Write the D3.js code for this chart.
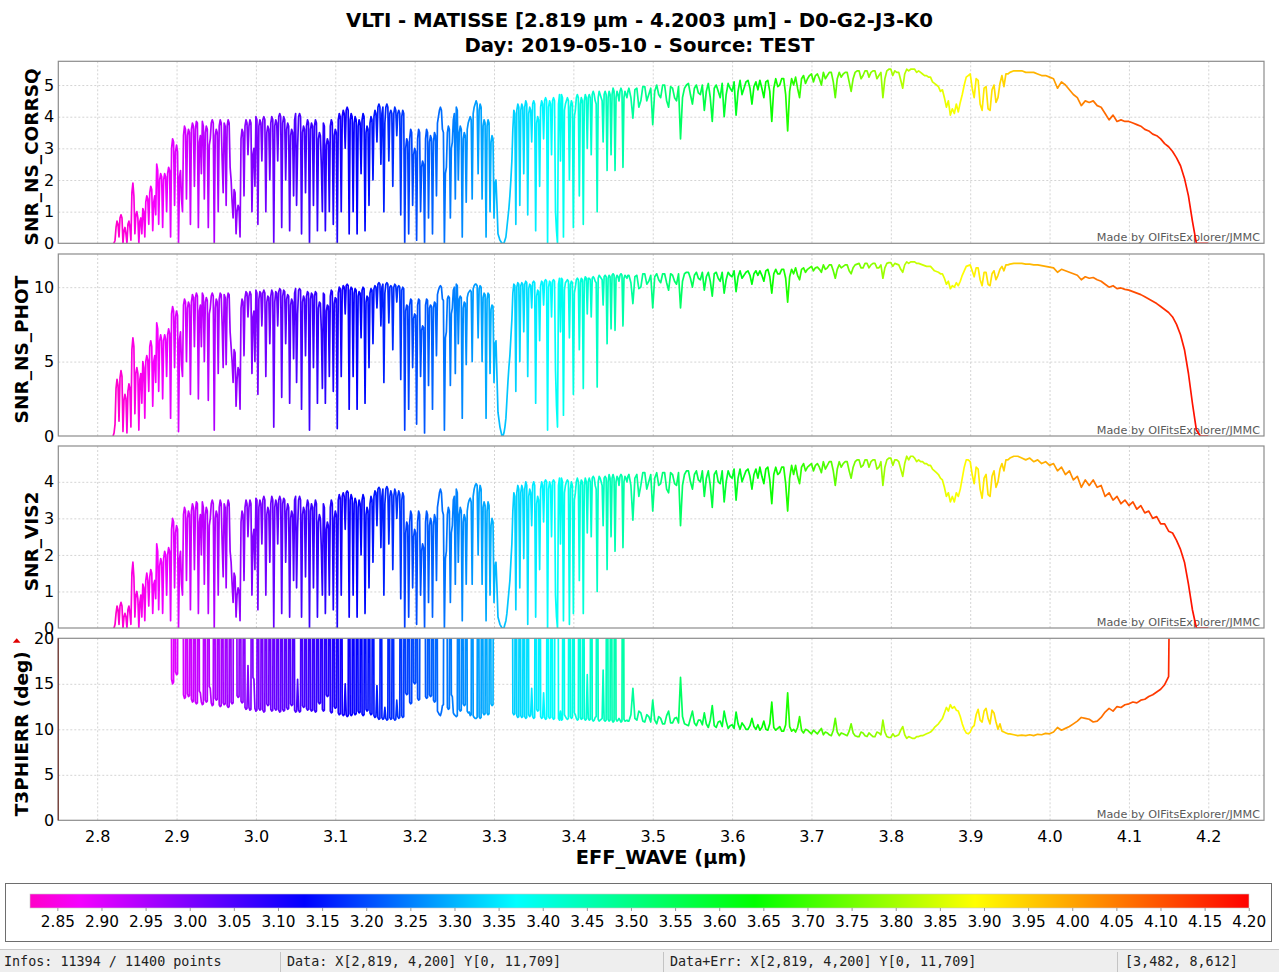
<!DOCTYPE html>
<html>
<head>
<meta charset="utf-8">
<script src="https://cdn.jsdelivr.net/npm/d3@7"></script>
<style>
  html, body { margin: 0; padding: 0; background: #ffffff; }
  svg { display: block; font-family: "DejaVu Sans", sans-serif; }
</style>
</head>
<body>
<svg id="chart" width="1279" height="972"></svg>
<script>
// ---------------------------------------------------------------------------
// Data
// ---------------------------------------------------------------------------
const titleLines = [
  "VLTI - MATISSE [2.819 µm - 4.2003 µm] - D0-G2-J3-K0",
  "Day: 2019-05-10 - Source: TEST"
];
const xLabel = "EFF_WAVE (µm)";
const waveRange = [2.819, 4.2003];           // EFF_WAVE min / max (µm)
const xTicks = [2.8, 2.9, 3.0, 3.1, 3.2, 3.3, 3.4, 3.5, 3.6, 3.7, 3.8, 3.9, 4.0, 4.1, 4.2];
const colorbarTicks = [2.85, 2.90, 2.95, 3.00, 3.05, 3.10, 3.15, 3.20, 3.25, 3.30, 3.35, 3.40,
  3.45, 3.50, 3.55, 3.60, 3.65, 3.70, 3.75, 3.80, 3.85, 3.90, 3.95, 4.00, 4.05, 4.10, 4.15, 4.20];
const statusTexts = [
  "Infos: 11394 / 11400 points",
  "Data: X[2,819, 4,200] Y[0, 11,709]",
  "Data+Err: X[2,819, 4,200] Y[0, 11,709]",
  "[3,482, 8,612]"
];

// EFF_WAVE sampling (µm):
//   forest 2.820 – 3.46875 in 1.25 nm steps (main samples + in-between samples),
//   band   3.470 – 3.9475  in 2.5 nm steps,
//   tail   3.950 – 4.200   in 5 nm steps
const waveForest = d3.range(520).map(k => +(2.820 + 0.00125 * k).toFixed(5));
const waveBand = d3.range(192).map(i => +(3.470 + 0.0025 * i).toFixed(4));
const waveTail = d3.range(51).map(j => +(3.950 + 0.005 * j).toFixed(4));

// ---- SNR_NS_CORRSQ --------------------------------------------------------
// forest main samples, 2.820 – 3.4675 µm (one row = 0.05 µm)
const corrsqForest = [
  0,0.1,0.7,0.2,0.9,0,0.5,0,0.7,0.1,1.9,0.3,1.0,0,0.8,1.1,0.2,1.5,0.6,1.8,
  0.4,1.5,2.5,0.6,2.2,0.5,2.2,1.0,2.4,0.2,3.3,1.2,3.1,0,2.3,1.0,3.7,1.4,3.6,0.6,
  3.8,1.8,3.85,0.5,3.4,3.85,1.4,3.7,0.5,3.3,3.9,0,3.6,1.0,3.9,2.6,3.8,1.2,3.9,2.4,
  1.3,1.7,0.3,1.2,0.2,3.6,1.5,3.9,2.8,3.9,1.0,3.0,4.0,0.6,3.9,2.6,4.0,1.0,3.7,2.0,
  4.0,0,3.9,2.6,4.1,0.5,4.0,2.0,3.8,0.4,3.6,1.5,4.1,3.0,4.1,0.3,3.7,1.6,3.9,0,
  3.8,1.2,3.9,0.4,3.5,2.4,3.8,0.4,3.3,1.0,3.9,0.6,3.6,0,4.1,1.0,4.2,3.0,4.3,0.3,
  4.1,1.0,4.0,0.3,3.9,2.2,4.1,0.4,3.7,1.2,4.0,2.0,4.2,3.2,4.4,2.5,4.3,3.8,4.4,2.6,
  4.2,1.8,4.3,3.4,4.2,0.9,4.2,0,3.3,0.3,3.6,1.2,3.0,0.1,3.6,1.0,2.6,0,3.6,0.8,
  3.4,0.3,3.5,1.5,4.0,4.3,3.6,0,2.4,3.7,0.8,3.2,4.1,4.3,2.0,3.7,0.2,3.5,1.3,3.8,
  4.0,1.4,4.3,4.5,2.2,4.4,1.4,3.9,0.2,3.9,1.0,3.4,0.8,2.0,0.3,0.1,0,0,0.2,0.8,
  1.5,2.6,4.2,0.6,4.4,1.2,4.4,2.2,4.5,0.9,4.3,3.2,4.5,0.4,4.0,1.8,4.5,3.3,4.6,0,
  4.5,2.8,4.6,1.0,0,4.7,4.7,0.2,4.4,4.6,2.0,4.5,0.5,4.2,4.7,1.5,4.6,0.6,4.7,3.0,
  4.7,2.8,4.8,4.5,1.0,4.8,4.6,3.2,4.8,2.3,4.8,2.8,4.9,2.3,4.8,4.5,4.9,2.4,4.8,4.6
];
// forest in-between samples, 2.82125 – 3.46875 µm
const corrsqForestMid = [
  0,0.5,0.6,0.8,0.8,0.4,0.3,0.6,0.5,1.6,1.5,0.9,0.8,0.7,0.3,1.0,1.3,1.4,1.6,1.7,
  1.3,0.9,2.3,2.0,2.1,2.0,2.1,2.2,2.3,3.0,3.2,2.9,2.9,2.1,1.4,3.4,3.6,3.4,3.5,3.6,
  3.7,3.6,3.8,3.2,2.2,3.7,3.5,3.6,3.1,3.8,3.8,3.4,3.5,3.7,3.8,1.6,3.7,3.7,3.8,2.0,
  0.8,1.6,1.0,1.1,3.3,3.5,3.7,3.8,3.7,3.8,2.8,1.8,3.9,3.7,3.8,3.9,3.9,3.5,3.6,3.8,
  3.9,3.7,3.8,4.0,4.0,3.8,3.9,3.6,3.7,3.4,3.5,3.9,1.2,4.0,4.0,3.5,3.6,3.7,3.8,3.6,
  3.7,3.7,3.8,3.3,3.4,1.0,3.7,3.1,3.2,3.7,3.8,3.4,3.5,3.9,4.0,4.0,4.1,4.2,4.2,3.9,
  4.0,3.8,3.9,3.7,3.8,3.9,4.0,3.5,3.6,3.8,3.9,4.0,4.1,4.3,4.3,4.1,1.0,4.3,4.3,4.1,
  4.1,4.1,4.2,4.1,4.1,4.0,4.1,3.0,3.2,3.3,3.5,2.8,2.9,3.3,3.5,2.4,2.5,3.3,3.5,3.2,
  3.3,3.2,3.4,3.8,4.2,4.2,3.5,2.2,3.5,3.6,3.0,3.9,1.4,4.2,3.5,3.6,3.3,3.4,3.6,3.9,
  3.9,4.1,4.4,4.4,4.2,4.3,3.7,3.8,3.7,3.8,3.2,3.3,1.9,1.2,0.2,0.05,0,0.1,0.5,1.1,
  2.0,3.6,4.1,4.2,4.3,4.2,4.3,4.3,4.4,4.1,4.2,4.4,4.4,3.8,3.9,4.3,4.4,4.5,4.5,4.3,
  4.4,4.5,4.5,0.4,4.4,2.6,4.6,4.2,4.5,4.5,4.3,4.4,4.0,4.6,4.6,4.4,4.5,4.5,4.6,4.6,
  4.6,4.7,4.7,4.4,4.6,4.7,4.5,4.7,4.7,4.6,4.7,4.7,4.8,4.6,4.7,4.8,4.8,4.6,4.7,4.8
];
// 3.470 – 3.9475 µm
const corrsqBand = [
  4.9,4.6,3.95,4.85,4.9,4.3,4.5,4.95,4.95,4.5,4.7,4.9,3.75,4.8,5.0,4.7,4.6,5.0,5.0,4.5,
  4.3,4.95,4.9,4.6,4.5,4.95,3.3,4.6,4.9,5.0,5.05,4.7,4.4,4.9,5.0,4.75,4.7,5.0,4.2,4.8,
  5.05,4.6,3.85,4.9,5.0,4.8,4.6,5.05,4.0,4.7,5.05,4.9,4.8,5.1,4.05,4.8,5.15,4.7,4.9,5.1,
  5.15,4.9,4.4,4.95,5.1,4.85,5.15,4.9,4.6,5.1,5.15,4.8,3.85,4.9,5.2,4.95,5.0,5.2,5.2,4.7,
  3.55,4.8,5.2,5.0,5.25,4.9,4.6,5.2,5.3,5.05,5.2,5.3,5.35,5.1,5.3,5.35,5.2,5.0,5.4,5.2,
  5.3,5.4,5.4,5.1,4.6,5.2,5.4,5.25,5.35,5.4,5.4,5.1,4.8,5.2,5.4,5.45,5.45,5.2,5.3,5.45,
  5.45,5.25,5.4,5.45,5.45,5.2,5.3,5.4,4.6,5.2,5.45,5.5,5.5,5.3,5.45,5.4,5.4,5.15,4.9,5.35,
  5.5,5.45,5.5,5.5,5.5,5.4,5.45,5.4,5.35,5.3,5.3,5.25,5.25,5.1,5.05,5.0,4.95,4.8,4.85,4.6,
  4.3,4.5,4.05,4.25,4.1,4.4,4.15,4.45,4.7,5.0,5.25,5.3,5.35,4.9,4.6,5.2,5.15,4.4,4.2,4.9,
  4.95,4.25,4.2,4.85,5.0,4.45,4.6,5.05,5.3,4.95,5.35,5.35
];
// 3.950 – 4.200 µm
const corrsqTail = [
  5.4,5.45,5.45,5.45,
  5.4,5.4,5.4,5.35,5.3,5.3,5.25,5.2,4.9,5.1,
  5.0,4.85,4.7,4.6,4.35,4.5,4.45,4.5,4.35,4.3,
  4.1,3.9,4.05,3.85,3.9,3.85,3.85,3.8,3.75,3.7,
  3.6,3.55,3.45,3.4,3.3,3.15,3.05,2.9,2.7,2.45,
  2.05,1.5,0.7,0,0,0,0
];

// ---- SNR_NS_PHOT ----------------------------------------------------------
const photForest = [
  0,0.8,3.8,1.0,4.4,0.3,2.8,0.2,3.5,0.6,6.6,1.5,4.6,0.4,4.2,5.0,1.2,5.4,3.0,6.4,
  2.0,5.4,7.6,3.0,6.8,2.5,6.8,4.0,7.2,1.2,8.7,4.6,8.4,0.3,7.0,4.0,9.2,5.0,9.0,2.8,
  9.5,6.0,9.6,2.5,8.8,9.6,5.0,9.3,2.4,8.6,9.6,0.4,9.2,4.2,9.6,7.4,9.5,4.8,9.6,7.0,
  5.0,5.8,2.0,4.6,1.8,9.2,5.4,9.7,8.0,9.7,4.2,8.4,9.8,2.8,9.7,7.4,9.8,4.0,9.4,6.2,
  9.8,0.6,9.7,7.4,9.9,2.6,9.8,6.2,9.5,2.2,9.2,5.2,9.9,8.2,9.9,1.8,9.4,5.4,9.7,0.4,
  9.6,4.6,9.7,2.2,9.0,7.0,9.6,2.2,8.8,4.0,9.8,3.0,9.3,0.5,10.0,4.0,10.1,8.2,10.2,1.8,
  10.0,4.0,9.9,1.8,9.7,6.6,10.0,2.2,9.4,4.6,9.9,6.2,10.1,8.6,10.3,7.4,10.2,9.6,10.3,7.6,
  10.1,5.8,10.2,9.0,10.1,3.8,10.0,0.4,8.8,1.8,9.2,4.6,8.2,0.8,9.2,4.0,7.4,0.2,9.2,3.4,
  8.8,1.8,9.0,5.4,9.8,10.1,9.2,0.4,7.0,9.4,3.4,8.6,10.0,10.2,6.2,9.4,1.2,9.0,4.8,9.6,
  9.8,5.0,10.1,10.2,6.6,10.1,5.0,9.6,1.2,9.6,4.2,8.8,3.6,6.4,1.6,0.6,0,0.2,1.2,3.6,
  5.4,7.8,10.2,3.0,10.3,5.0,10.3,7.0,10.4,4.0,10.2,8.6,10.4,2.2,9.8,6.4,10.4,8.8,10.5,0.4,
  10.4,8.0,10.5,4.4,0.6,10.6,10.6,1.4,10.3,10.5,6.6,10.4,2.8,10.0,10.6,5.8,10.6,3.2,10.7,8.2,
  10.6,8.0,10.7,10.4,3.3,10.8,10.6,8.8,10.8,6.2,10.8,7.2,10.9,7.1,10.8,10.4,10.9,7.4,10.8,10.6
];
const photForestMid = [
  0.2,3.2,3.4,3.9,4.0,2.4,2.5,3.0,3.2,5.8,6.0,4.2,4.2,3.8,2.2,4.6,5.0,5.1,6.0,6.0,
  5.0,3.6,7.2,6.4,6.4,6.4,6.5,6.8,6.9,8.2,8.4,8.0,8.1,6.5,4.8,8.8,9.0,8.6,8.8,9.0,
  9.3,9.3,9.4,8.4,6.0,9.4,9.0,9.1,8.2,9.4,9.4,8.6,9.0,9.2,9.5,4.6,9.3,9.2,9.5,6.0,
  3.6,5.6,3.8,4.4,8.6,9.0,9.3,9.6,9.4,9.5,8.0,5.0,9.6,9.2,9.6,9.6,9.6,9.0,9.3,9.4,
  9.6,9.0,9.6,9.7,9.8,9.4,9.7,9.2,9.4,8.8,9.0,9.6,3.6,9.8,9.8,9.0,9.2,9.4,9.6,9.2,
  9.5,9.4,9.6,8.6,8.9,3.2,9.5,8.4,8.7,9.4,9.7,8.9,9.2,9.6,9.9,9.8,10.0,10.1,10.1,9.8,
  9.9,9.6,9.8,9.4,9.6,9.8,9.9,9.0,9.3,9.6,9.8,9.9,10.0,10.2,10.2,10.0,3.6,10.2,10.2,10.0,
  10.0,10.0,10.1,10.0,10.0,9.8,9.9,8.4,8.7,8.8,9.1,7.9,8.1,8.8,9.1,7.1,7.3,8.8,9.1,8.6,
  8.7,8.6,8.9,9.5,10.0,10.0,9.1,6.6,9.2,9.3,8.2,9.8,4.2,10.1,9.2,9.3,8.6,8.9,9.3,9.7,
  9.7,9.9,10.2,10.1,9.9,10.0,9.3,9.5,9.2,9.5,8.5,8.7,6.2,4.0,1.1,0.3,0,0.6,2.4,4.6,
  6.6,9.6,10.1,10.0,10.2,10.1,10.2,10.2,10.3,9.9,10.1,10.3,10.3,9.4,9.7,10.1,10.3,10.4,10.4,10.0,
  10.3,10.4,10.4,2.0,10.2,7.0,10.5,9.8,10.4,10.4,10.2,10.3,9.6,10.5,10.5,10.3,10.5,10.4,10.6,10.6,
  10.5,10.6,10.6,10.3,10.6,10.7,10.5,10.7,10.7,10.6,10.7,10.8,10.8,10.6,10.7,10.8,10.8,10.6,10.7,10.8
];
const photBand = [
  10.8,10.3,8.9,10.7,10.8,9.9,10.0,10.9,10.9,10.2,10.4,10.8,8.6,10.7,10.9,10.5,10.3,10.9,10.9,10.3,
  9.8,10.9,10.8,10.4,10.2,10.9,8.6,10.4,10.9,11.0,11.0,10.6,10.0,10.8,11.0,10.6,10.5,11.0,9.8,10.7,
  11.0,10.4,9.4,10.9,11.0,10.6,10.4,11.0,9.6,10.5,11.0,10.8,10.7,11.1,9.7,10.7,11.1,10.6,10.8,11.0,
  11.1,10.8,10.2,10.9,11.1,10.8,11.1,10.8,10.4,11.1,11.2,10.7,9.6,10.9,11.2,10.9,10.9,11.2,11.2,10.6,
  9.0,10.7,11.2,10.9,11.3,10.8,10.5,11.2,11.3,11.0,11.2,11.3,11.4,11.1,11.3,11.35,11.2,11.0,11.5,11.2,
  11.3,11.5,11.5,11.1,10.6,11.2,11.5,11.3,11.4,11.5,11.5,11.1,10.9,11.3,11.5,11.55,11.6,11.3,11.3,11.6,
  11.6,11.3,11.5,11.6,11.6,11.3,11.3,11.5,10.6,11.3,11.6,11.65,11.65,11.4,11.6,11.55,11.5,11.2,11.0,11.5,
  11.7,11.6,11.7,11.7,11.7,11.6,11.6,11.55,11.5,11.45,11.4,11.4,11.4,11.25,11.1,11.05,11.0,10.9,10.9,10.6,
  10.2,10.4,9.9,10.1,10.0,10.3,10.1,10.4,10.8,11.1,11.4,11.45,11.5,11.1,10.7,11.3,11.3,10.5,10.1,11.0,
  11.0,10.2,10.1,10.9,11.1,10.5,10.8,11.2,11.4,11.1,11.5,11.5
];
const photTail = [
  11.55,11.6,11.6,11.6,
  11.55,11.55,11.5,11.5,11.45,11.4,11.35,11.3,11.0,11.2,
  11.1,11.0,10.9,10.8,10.5,10.7,10.6,10.65,10.5,10.4,
  10.2,10.0,10.1,9.9,9.95,9.85,9.8,9.7,9.6,9.5,
  9.35,9.2,9.05,8.9,8.7,8.5,8.3,8.0,7.5,6.8,
  5.8,4.2,2.2,0.4,0,0,0
];

// ---- SNR_VIS2 -------------------------------------------------------------
const vis2Forest = [
  0,0.1,0.6,0.1,0.7,0,0.4,0,0.6,0.1,1.8,0.3,1.0,0,0.9,1.2,0.2,1.5,0.6,1.6,
  0.4,1.3,2.3,0.5,1.9,0.4,2.1,0.9,2.2,0.2,3.0,1.1,2.8,0,2.1,0.9,3.3,1.3,3.2,0.5,
  3.4,1.6,3.45,0.4,3.1,3.45,1.2,3.3,0.4,3.0,3.5,0,3.2,0.9,3.5,2.3,3.4,1.1,3.5,2.1,
  1.2,1.5,0.3,1.1,0.2,3.2,1.3,3.5,2.5,3.5,0.9,2.7,3.55,0.5,3.5,2.3,3.6,0.9,3.3,1.8,
  3.6,0,3.5,2.3,3.6,0.4,3.55,1.8,3.4,0.3,3.2,1.3,3.6,2.7,3.6,0.3,3.3,1.4,3.5,0,
  3.4,1.1,3.5,0.3,3.1,2.1,3.4,0.4,2.9,0.9,3.5,0.5,3.2,0,3.65,0.9,3.7,2.7,3.75,0.3,
  3.65,0.9,3.55,0.3,3.5,2.0,3.65,0.4,3.3,1.1,3.6,1.8,3.75,2.8,3.85,2.2,3.8,3.4,3.87,2.3,
  3.75,1.6,3.8,3.0,3.75,0.8,3.7,0,2.9,0.3,3.2,1.1,2.7,0.1,3.2,0.9,2.3,0,3.2,0.7,
  3.0,0.3,3.1,1.3,3.5,3.8,3.2,0,2.1,3.3,0.7,2.8,3.6,3.8,1.8,3.3,0.2,3.1,1.2,3.4,
  3.55,1.2,3.8,3.95,2.0,3.9,1.2,3.45,0.2,3.45,0.9,3.0,0.7,1.8,0.3,0.1,0,0,0.2,0.7,
  1.3,2.3,3.7,0.5,3.9,1.1,3.9,1.9,4.0,0.1,3.8,2.8,4.0,0.3,3.6,1.6,4.0,2.9,4.05,0,
  4.0,2.5,4.05,0.9,0,4.1,4.1,0.2,3.9,4.05,0.1,4.0,0.4,3.7,4.1,1.3,4.05,0.4,4.1,2.6,
  4.1,2.5,4.15,3.9,1.0,4.15,4.0,2.8,4.15,1.6,4.2,2.5,4.2,2.1,4.15,3.9,4.2,2.2,4.15,4.0
];
const vis2ForestMid = [
  0,0.4,0.5,0.6,0.6,0.3,0.3,0.5,0.4,1.5,1.4,0.9,0.8,0.7,0.3,1.1,1.3,1.3,1.4,1.5,
  1.2,0.8,2.1,1.7,1.8,1.9,2.0,2.0,2.1,2.7,2.9,2.6,2.7,1.9,1.2,3.1,3.2,3.0,3.1,3.2,
  3.3,3.2,3.4,2.9,2.0,3.3,3.1,3.2,2.8,3.4,3.4,3.0,3.1,3.3,3.4,1.4,3.3,3.3,3.4,1.8,
  0.7,1.4,0.9,1.0,2.9,3.1,3.3,3.4,3.3,3.4,2.5,1.6,3.5,3.3,3.4,3.5,3.5,3.1,3.2,3.4,
  3.5,3.3,3.4,3.5,3.5,3.4,3.5,3.2,3.3,3.0,3.1,3.5,1.1,3.5,3.5,3.1,3.2,3.3,3.4,3.2,
  3.3,3.3,3.4,2.9,3.0,0.9,3.3,2.7,2.8,3.3,3.4,3.0,3.1,3.5,3.55,3.6,3.6,3.7,3.7,3.5,
  3.55,3.4,3.45,3.3,3.4,3.5,3.55,3.1,3.2,3.4,3.5,3.6,3.7,3.8,3.8,3.6,0.9,3.8,3.8,3.6,
  3.65,3.6,3.7,3.6,3.65,3.5,3.6,2.6,2.8,2.9,3.1,2.5,2.6,2.9,3.1,2.1,2.2,2.9,3.1,2.8,
  2.9,2.8,3.0,3.3,3.7,3.7,3.1,1.9,3.1,3.2,2.6,3.5,1.2,3.7,3.1,3.2,2.9,3.0,3.2,3.5,
  3.45,3.6,3.9,3.9,3.7,3.8,3.3,3.35,3.2,3.35,2.8,2.9,1.7,1.1,0.2,0.05,0,0.1,0.4,1.0,
  1.8,3.2,3.6,3.7,3.8,3.7,3.8,3.8,3.9,3.6,3.7,3.9,3.9,3.4,3.5,3.8,3.9,4.0,4.0,3.8,
  3.9,4.0,4.0,0.3,3.9,2.3,4.0,3.7,4.0,4.0,3.8,3.9,3.5,4.0,4.0,3.9,4.0,3.9,4.0,4.0,
  4.0,4.1,4.1,3.8,4.0,4.1,3.9,4.1,4.1,4.0,4.1,4.1,4.1,4.0,4.1,4.15,4.15,4.0,4.1,4.15
];
const vis2Band = [
  4.2,3.9,2.95,4.1,4.2,3.6,3.9,4.25,4.25,3.8,4.0,4.2,3.2,4.1,4.25,3.9,3.95,4.25,4.25,3.8,
  3.7,4.25,4.2,3.95,3.9,4.25,2.8,3.9,4.2,4.3,4.3,4.0,3.8,4.2,4.3,4.05,4.0,4.3,3.6,4.1,
  4.3,3.9,3.3,4.2,4.3,4.0,3.95,4.3,3.45,4.0,4.3,4.15,4.1,4.35,3.5,4.1,4.35,4.0,4.15,4.3,
  4.35,4.15,3.8,4.2,4.35,4.1,4.4,4.15,3.95,4.35,4.4,4.05,3.4,4.2,4.4,4.2,4.25,4.4,4.4,3.95,
  3.2,4.1,4.45,4.2,4.45,4.15,3.95,4.4,4.5,4.3,4.4,4.45,4.5,4.3,4.45,4.5,4.4,4.25,4.55,4.35,
  4.45,4.55,4.55,4.3,3.9,4.35,4.55,4.4,4.5,4.55,4.55,4.3,4.1,4.4,4.55,4.6,4.6,4.4,4.45,4.6,
  4.6,4.4,4.55,4.6,4.6,4.35,4.4,4.55,3.9,4.4,4.6,4.65,4.65,4.45,4.6,4.6,4.55,4.35,4.15,4.5,
  4.7,4.6,4.7,4.7,4.65,4.55,4.6,4.55,4.55,4.5,4.5,4.45,4.45,4.35,4.3,4.25,4.2,4.1,4.05,3.85,
  3.6,3.7,3.45,3.6,3.45,3.7,3.6,3.8,4.1,4.4,4.6,4.6,4.55,4.2,3.95,4.4,4.35,3.8,3.55,4.1,
  4.2,3.65,3.6,4.15,4.3,3.85,4.0,4.35,4.5,4.3,4.6,4.6
];
const vis2Tail = [
  4.65,4.7,4.7,4.65,
  4.6,4.65,4.55,4.6,4.5,4.55,4.45,4.5,4.3,4.4,
  4.2,4.3,4.05,4.15,3.85,4.05,3.9,4.05,3.85,3.9,
  3.6,3.7,3.5,3.6,3.4,3.5,3.35,3.45,3.25,3.35,
  3.15,3.2,3.0,3.05,2.85,2.85,2.65,2.6,2.4,2.15,
  1.8,1.2,0.5,0,0,0,0
];

// ---- T3PHIERR (deg); 60 marks samples far above the 20° display range ------
const t3Forest = [
  60,60,60,60,60,60,60,60,60,60,60,60,60,60,60,60,60,60,60,60,
  60,60,60,60,60,60,60,60,60,60,15.0,60,16.0,60,60,60,13.4,60,13.6,60,
  13.0,60,12.8,60,14.0,12.7,60,13.0,60,14.5,12.6,60,13.2,60,12.5,60,12.7,60,12.4,60,
  12.8,60,60,13.5,60,12.9,60,12.2,17.0,12.1,60,15.5,12.0,60,12.1,60,11.9,60,12.6,60,
  12.0,60,12.1,60,11.9,60,12.0,60,12.2,60,12.6,60,11.9,15.5,11.9,60,12.4,60,12.1,60,
  12.0,60,11.9,60,12.8,60,12.0,60,13.6,60,11.8,60,12.3,60,11.6,60,11.5,15.0,11.4,60,
  11.5,60,11.6,60,11.8,60,11.5,60,12.0,60,11.6,60,11.3,14.8,11.1,60,11.1,12.4,11.0,60,
  11.1,60,11.0,13.2,11.2,60,11.3,60,13.8,60,12.8,60,15.0,60,13.2,60,60,60,13.4,60,
  13.6,60,13.0,60,11.8,11.5,12.6,60,60,12.2,60,13.6,11.6,11.4,60,12.0,60,12.6,60,11.8,
  11.5,60,11.3,11.2,60,11.2,60,11.6,60,11.6,60,12.6,60,60,60,60,60,60,60,60,
  60,60,11.6,60,11.3,60,11.3,60,11.2,60,11.4,14.5,11.2,60,12.0,60,11.2,14.0,11.1,60,
  11.2,60,11.1,60,60,11.0,11.0,60,11.4,11.1,60,11.2,60,11.6,11.0,60,11.1,60,11.0,16.0,
  11.0,60,10.9,11.3,60,10.9,11.1,16.5,10.9,60,10.9,60,10.8,60,10.9,11.2,10.8,60,10.9,11.0
];
const t3ForestMid = [
  60,60,60,60,60,60,60,60,60,60,60,60,60,60,60,60,60,60,60,60,
  60,60,60,60,60,60,60,60,60,15.5,15.2,16.3,16.1,60,60,13.8,13.5,13.9,13.7,13.3,
  13.1,13.0,12.9,14.2,13.0,12.8,13.2,13.1,14.7,12.9,12.7,13.4,13.3,12.7,12.6,12.9,12.8,12.6,12.5,13.0,
  12.9,60,13.7,13.6,13.1,13.0,12.4,12.3,12.4,12.2,15.7,12.3,12.1,12.3,12.2,12.1,12.0,12.8,12.7,12.2,
  12.1,12.3,12.2,12.1,12.0,12.2,12.1,12.4,12.3,12.8,12.7,12.1,12.0,12.1,12.0,12.6,12.5,12.3,12.2,12.2,
  12.1,12.1,12.0,13.0,12.9,12.2,12.1,13.8,13.7,12.0,11.9,12.5,12.4,11.8,11.7,11.7,11.6,11.6,11.5,11.7,
  11.6,11.8,11.7,12.0,11.9,11.7,11.6,12.2,12.1,11.8,11.7,11.5,11.4,11.3,11.2,11.3,11.2,11.2,11.1,11.3,
  11.2,11.2,11.1,11.4,11.3,11.5,11.4,14.0,13.9,13.0,12.9,15.2,15.1,13.4,13.3,60,60,13.6,13.5,13.8,
  13.7,13.2,13.1,12.0,11.6,11.9,12.7,60,12.4,12.3,13.8,11.8,11.5,11.5,12.2,12.1,12.8,12.7,12.0,11.9,
  11.6,11.5,11.2,11.3,11.4,11.3,11.8,11.7,11.8,11.7,12.8,12.7,60,60,60,60,60,60,60,60,
  60,11.8,11.7,11.5,11.4,11.5,11.4,11.4,11.3,11.6,11.6,11.4,11.3,12.2,12.1,11.4,11.3,11.3,11.2,11.4,
  11.3,11.3,11.2,60,11.2,12.0,11.1,11.6,11.2,11.2,11.4,11.3,11.8,11.2,11.1,11.3,11.2,11.2,11.1,11.2,
  11.1,11.1,11.0,11.4,11.1,11.0,11.2,11.0,11.0,11.1,11.0,11.0,10.9,11.1,11.0,11.0,10.9,11.1,10.95,10.9
];
const t3Band = [
  10.9,11.6,14.5,11.2,11.0,12.0,11.8,10.9,10.8,11.6,11.4,10.8,13.2,11.0,10.6,11.4,11.2,10.6,10.6,11.5,
  12.0,10.7,10.7,11.2,11.3,10.7,15.7,11.4,10.6,10.5,10.4,11.2,12.0,10.7,10.4,11.0,11.0,10.5,11.8,10.6,
  10.2,11.0,12.6,10.4,10.2,10.8,10.9,10.3,12.0,10.9,10.1,10.4,10.5,10.1,11.9,10.6,10.0,10.7,10.4,10.0,
  10.0,10.4,11.2,10.3,10.0,10.5,9.9,10.2,10.9,10.0,9.9,10.6,13.0,10.2,9.9,10.1,10.3,9.8,9.8,10.5,
  14.0,10.3,9.8,10.0,9.7,10.2,11.4,9.9,9.6,10.0,9.9,9.7,9.5,9.9,9.7,9.5,9.8,10.1,9.4,9.7,
  9.6,9.4,9.3,9.9,11.2,9.7,9.3,9.6,9.5,9.4,9.3,9.8,10.6,9.6,9.3,9.2,9.2,9.7,9.6,9.3,
  9.2,9.6,9.4,9.2,9.2,9.7,9.6,9.4,11.0,9.7,9.2,9.1,9.1,9.5,9.2,9.3,9.4,9.9,10.3,9.4,
  9.0,9.2,9.1,9.0,9.0,9.2,9.2,9.3,9.3,9.4,9.5,9.6,9.7,9.9,10.2,10.4,10.6,10.9,11.2,11.8,
  12.4,12.0,12.7,12.3,12.5,12.1,12.0,11.4,10.6,10.0,9.6,9.5,9.7,10.2,10.4,11.6,12.2,11.0,10.8,12.0,
  12.3,11.2,10.6,12.1,11.8,10.8,10.0,10.6,9.8,9.7,9.6,9.5
];
const t3Tail = [
  9.5,9.4,9.3,9.35,
  9.3,9.4,9.3,9.45,9.4,9.55,9.5,9.7,10.2,9.9,
  10.1,10.3,10.6,10.9,11.3,11.2,11.1,10.8,10.9,11.3,
  11.9,12.3,12.0,12.5,12.4,12.7,12.8,13.0,12.9,13.2,
  13.3,13.6,13.8,14.1,14.4,14.9,15.8,60,60,60,
  60,60,60,60,60,60,60
];

// ---------------------------------------------------------------------------
// Assemble series
// ---------------------------------------------------------------------------
function interleave(main, mid) {
  if (main.length !== mid.length) throw new Error("forest arrays differ: " + main.length + " / " + mid.length);
  return main.flatMap((v, i) => [v, mid[i]]);
}
const effWave = waveForest.concat(waveBand, waveTail);
const panels = [
  { name: "SNR_NS_CORRSQ",  values: interleave(corrsqForest, corrsqForestMid).concat(corrsqBand, corrsqTail), domain: [0, 5.75],  ticks: [0, 1, 2, 3, 4, 5] },
  { name: "SNR_NS_PHOT",    values: interleave(photForest, photForestMid).concat(photBand, photTail),         domain: [0, 12.23], ticks: [0, 5, 10] },
  { name: "SNR_VIS2",       values: interleave(vis2Forest, vis2ForestMid).concat(vis2Band, vis2Tail),         domain: [0, 4.98],  ticks: [0, 1, 2, 3, 4] },
  { name: "T3PHIERR (deg)", values: interleave(t3Forest, t3ForestMid).concat(t3Band, t3Tail),                 domain: [0, 20],    ticks: [0, 5, 10, 15, 20] }
];
panels.forEach(p => {
  if (p.values.length !== effWave.length) throw new Error(p.name + " has " + p.values.length + " values, expected " + effWave.length);
});

// ---------------------------------------------------------------------------
// Layout & scales
// ---------------------------------------------------------------------------
const W = 1279;
const plotL = 58.3, plotR = 1264;
const panelTops = [61.3, 254, 446, 638.3];
const panelH = 182;
const font = "'DejaVu Sans', sans-serif";

const x = d3.scaleLinear().domain([2.751, 4.2702]).range([plotL, plotR]);

// wavelength colour map (magenta → blue → cyan → green → yellow → red)
const colorStops = [
  [2.819, "#ff00c8"], [2.875, "#f500ff"], [3.13, "#0000ff"], [3.37, "#00ffff"],
  [3.64, "#00ff00"], [3.89, "#ffff00"], [4.2003, "#ff0000"]
];

const svg = d3.select("#chart");
const defs = svg.append("defs");

function addGradient(id, x1, x2) {
  const g = defs.append("linearGradient").attr("id", id)
    .attr("gradientUnits", "userSpaceOnUse")
    .attr("x1", x1).attr("x2", x2).attr("y1", 0).attr("y2", 0);
  colorStops.forEach(([w, c]) => {
    g.append("stop")
      .attr("offset", (w - waveRange[0]) / (waveRange[1] - waveRange[0]))
      .attr("stop-color", c);
  });
}
addGradient("waveGrad", x(waveRange[0]), x(waveRange[1]));

// ---------------------------------------------------------------------------
// Title
// ---------------------------------------------------------------------------
svg.append("text").attr("x", W / 2).attr("y", 27)
  .attr("text-anchor", "middle").attr("font-family", font)
  .attr("font-weight", "bold").attr("font-size", 19.7).text(titleLines[0]);
svg.append("text").attr("x", W / 2).attr("y", 52)
  .attr("text-anchor", "middle").attr("font-family", font)
  .attr("font-weight", "bold").attr("font-size", 19.7).text(titleLines[1]);

// ---------------------------------------------------------------------------
// Panels
// ---------------------------------------------------------------------------
panels.forEach((p, k) => {
  const top = panelTops[k];
  const bottom = top + panelH;
  const y = d3.scaleLinear().domain(p.domain).range([bottom, top]);
  const g = svg.append("g");

  g.append("rect").attr("x", plotL).attr("y", top)
    .attr("width", plotR - plotL).attr("height", panelH).attr("fill", "#ffffff");

  // grid
  g.append("g").attr("transform", `translate(0,${bottom})`)
    .call(d3.axisBottom(x).tickValues(xTicks).tickSize(-panelH).tickFormat(""))
    .call(a => {
      a.select(".domain").remove();
      a.selectAll("line").attr("stroke", "#d4d4d4").attr("stroke-dasharray", "2,2");
    });
  g.append("g").attr("transform", `translate(${plotL},0)`)
    .call(d3.axisLeft(y).tickValues(p.ticks.filter(t => t > p.domain[0] && t < p.domain[1]))
      .tickSize(-(plotR - plotL)).tickFormat(""))
    .call(a => {
      a.select(".domain").remove();
      a.selectAll("line").attr("stroke", "#d4d4d4").attr("stroke-dasharray", "2,2");
    });

  // credit
  g.append("text").attr("x", plotR - 4).attr("y", bottom - 2.5)
    .attr("text-anchor", "end").attr("font-family", font)
    .attr("font-size", 11.2).attr("fill", "#5a5a5a")
    .text("Made by OIFitsExplorer/JMMC");

  // data line, clipped to the plot area
  const clipId = "clip" + k;
  defs.append("clipPath").attr("id", clipId)
    .append("rect").attr("x", plotL).attr("y", top)
    .attr("width", plotR - plotL).attr("height", panelH);
  const line = d3.line()
    .x((d, i) => x(effWave[i]))
    .y(d => y(d));
  g.append("path").datum(p.values)
    .attr("clip-path", `url(#${clipId})`)
    .attr("d", line)
    .attr("fill", "none")
    .attr("stroke", "url(#waveGrad)")
    .attr("stroke-width", 1.7)
    .attr("stroke-linejoin", "round");

  // frame
  g.append("rect").attr("x", plotL).attr("y", top)
    .attr("width", plotR - plotL).attr("height", panelH)
    .attr("fill", "none").attr("stroke", "#8c8c8c").attr("stroke-width", 1.2);

  // y tick labels
  const fmt = d3.format("d");
  g.append("g").attr("transform", `translate(${plotL},0)`)
    .call(d3.axisLeft(y).tickValues(p.ticks).tickSize(0).tickPadding(4).tickFormat(fmt))
    .call(a => {
      a.select(".domain").remove();
      a.attr("font-family", font).attr("font-size", 16);
      a.selectAll("text").attr("fill", "#000");
    });

  // y axis title, placed just left of the widest tick label
  const widest = d3.max(p.ticks, t => fmt(t).length);
  const titleX = widest > 1 ? 28 : 38.3;
  g.append("text")
    .attr("transform", `translate(${titleX},${(top + bottom) / 2 + 4.5}) rotate(-90)`)
    .attr("text-anchor", "middle").attr("font-family", font)
    .attr("font-weight", "bold").attr("font-size", 18.5)
    .text(p.name);

  // x axis under the last panel
  if (k === panels.length - 1) {
    g.append("line").attr("x1", plotL).attr("x2", plotL).attr("y1", top).attr("y2", bottom)
      .attr("stroke", "#7a4640").attr("stroke-width", 1.4);
    g.append("g").attr("transform", `translate(0,${bottom})`)
      .call(d3.axisBottom(x).tickValues(xTicks).tickSize(0).tickPadding(10).tickFormat(d3.format(".1f")))
      .call(a => {
        a.select(".domain").remove();
        a.attr("font-family", font).attr("font-size", 16);
        a.selectAll("text").attr("fill", "#000");
      });
    g.append("text").attr("x", (plotL + plotR) / 2).attr("y", bottom + 44)
      .attr("text-anchor", "middle").attr("font-family", font)
      .attr("font-weight", "bold").attr("font-size", 19.4).text(xLabel);
    // off-scale marker
    g.append("path")
      .attr("d", `M16.7,${top} L12.8,${top + 4.5} L20.6,${top + 4.5} Z`)
      .attr("fill", "#e00000");
  }
});

// ---------------------------------------------------------------------------
// Colour bar
// ---------------------------------------------------------------------------
const cbL = 30, cbR = 1249, cbTop = 894, cbH = 14;
const cb = d3.scaleLinear().domain(waveRange).range([cbL, cbR]);
addGradient("barGrad", cbL, cbR);

svg.append("rect").attr("x", 5.5).attr("y", 883.5).attr("width", 1266).attr("height", 58)
  .attr("fill", "#ffffff").attr("stroke", "#6e6e6e").attr("stroke-width", 1);
svg.append("rect").attr("x", cbL).attr("y", cbTop).attr("width", cbR - cbL).attr("height", cbH)
  .attr("fill", "url(#barGrad)").attr("stroke", "#c8c8c8").attr("stroke-width", 0.6);
svg.append("g").attr("transform", `translate(0,${cbTop + cbH})`)
  .call(d3.axisBottom(cb).tickValues(colorbarTicks).tickSize(3).tickPadding(5).tickFormat(d3.format(".2f")))
  .call(a => {
    a.select(".domain").remove();
    a.attr("font-family", font).attr("font-size", 15.3);
    a.selectAll("line").attr("stroke", "#999");
    a.selectAll("text").attr("fill", "#000");
  });

// ---------------------------------------------------------------------------
// Status bar
// ---------------------------------------------------------------------------
svg.append("rect").attr("x", 0).attr("y", 949).attr("width", W).attr("height", 23).attr("fill", "#eeeeee");
svg.append("line").attr("x1", 0).attr("x2", W).attr("y1", 949.5).attr("y2", 949.5).attr("stroke", "#c8c8c8");
[280.5, 663.5, 1117.5].forEach(sx => {
  svg.append("line").attr("x1", sx).attr("x2", sx).attr("y1", 952).attr("y2", 972).attr("stroke", "#c4c4c4");
});
const statusX = [4, 287, 670, 1125];
statusTexts.forEach((t, i) => {
  svg.append("text").attr("x", statusX[i]).attr("y", 966)
    .attr("font-family", "'DejaVu Sans Mono', monospace").attr("font-size", 13.4)
    .attr("fill", "#222").text(t);
});
</script>
</body>
</html>
